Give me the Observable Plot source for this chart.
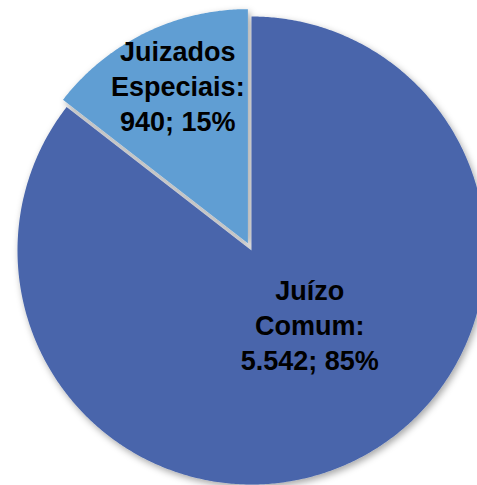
<!DOCTYPE html>
<html>
<head>
<meta charset="utf-8">
<script src="https://cdn.jsdelivr.net/npm/d3@7"></script>
<script src="https://cdn.jsdelivr.net/npm/@observablehq/plot@0.6"></script>
<style>
  html, body { margin: 0; padding: 0; background: #ffffff; }
  #chart { width: 477px; height: 485px; overflow: hidden; }
</style>
</head>
<body>
<div id="chart"></div>
<script>
// ---- data ----
const categories = ["Juízo Comum", "Juizados Especiais"];
const labelLines = [["Juízo", "Comum:"], ["Juizados", "Especiais:"]];
const values = [5542, 940];
const colors = ["#4865AB", "#609ED3"];
const explode = [0, 0.035];

// ---- layout ----
const W = 477, H = 485;
const CX = 251, CY = 250, R = 234; // pixel centre and radius

const loc = d3.formatLocale({decimal: ",", thousands: ".", grouping: [3], currency: ["R$", ""]});
const fmt = loc.format(",d");
const total = d3.sum(values);

const pie = d3.pie().sort(null).value(d => d.value);
const arcs = pie(categories.map((c, i) => ({c, i, value: values[i]})));

// polygon points for each slice (angles from 12 o'clock clockwise, y up)
const pts = [];
const labels = [];
arcs.forEach(a => {
  const i = a.data.i;
  const mid = (a.startAngle + a.endAngle) / 2;
  const ox = Math.sin(mid) * explode[i], oy = Math.cos(mid) * explode[i];
  pts.push({c: a.data.c, x: ox, y: oy});
  const n = Math.max(2, Math.ceil((a.endAngle - a.startAngle) / (Math.PI / 360)));
  for (let k = 0; k <= n; k++) {
    const t = a.startAngle + (a.endAngle - a.startAngle) * k / n;
    pts.push({c: a.data.c, x: ox + Math.sin(t), y: oy + Math.cos(t)});
  }
  const pct = Math.round(a.data.value / total * 100);
  const lr = i === 0 ? 0.42 : 0.70;
  labels.push({
    c: a.data.c,
    x: ox + Math.sin(mid) * lr,
    y: oy + Math.cos(mid) * lr,
    text: [...labelLines[i], `${fmt(a.data.value)}; ${pct}%`].join("\n"),
    i
  });
});

const chart = Plot.plot({
  width: W,
  height: H,
  margin: 0,
  x: {domain: [-CX / R, (W - CX) / R], axis: null},
  y: {domain: [-(H - CY) / R, CY / R], axis: null},
  color: {domain: categories, range: colors},
  style: {background: "transparent", overflow: "visible"},
  marks: [
    Plot.line(pts, {x: "x", y: "y", z: "c", fill: "c", stroke: "none", curve: "linear-closed"}),
    Plot.text(labels, {
      x: "x", y: "y", text: "text",
      fontSize: 27, fontWeight: "bold", fontFamily: "Liberation Sans, Arial, sans-serif",
      fill: "#000000", lineHeight: 1.3, textAnchor: "middle"
    })
  ]
});

// label nudges and drop shadow
const svg = d3.select(chart);
const nudges = [[15, -15], [2, -11]];
svg.selectAll("g[aria-label=text] text").each(function(d, k) {
  const el = d3.select(this);
  const tr = el.attr("transform") || "";
  const n = nudges[k] || [0, 0];
  el.attr("transform", tr + ` translate(${n[0]},${n[1]})`);
});
const defs = svg.insert("defs", ":first-child");
const f = defs.append("filter").attr("id", "pieShadow")
  .attr("x", "-20%").attr("y", "-20%").attr("width", "140%").attr("height", "140%");
f.append("feDropShadow").attr("dx", 2).attr("dy", 3).attr("stdDeviation", 3.5)
  .attr("flood-color", "#000").attr("flood-opacity", 0.35);
svg.select("g[aria-label=line]").attr("filter", "url(#pieShadow)");

document.getElementById("chart").appendChild(chart);
</script>
</body>
</html>
